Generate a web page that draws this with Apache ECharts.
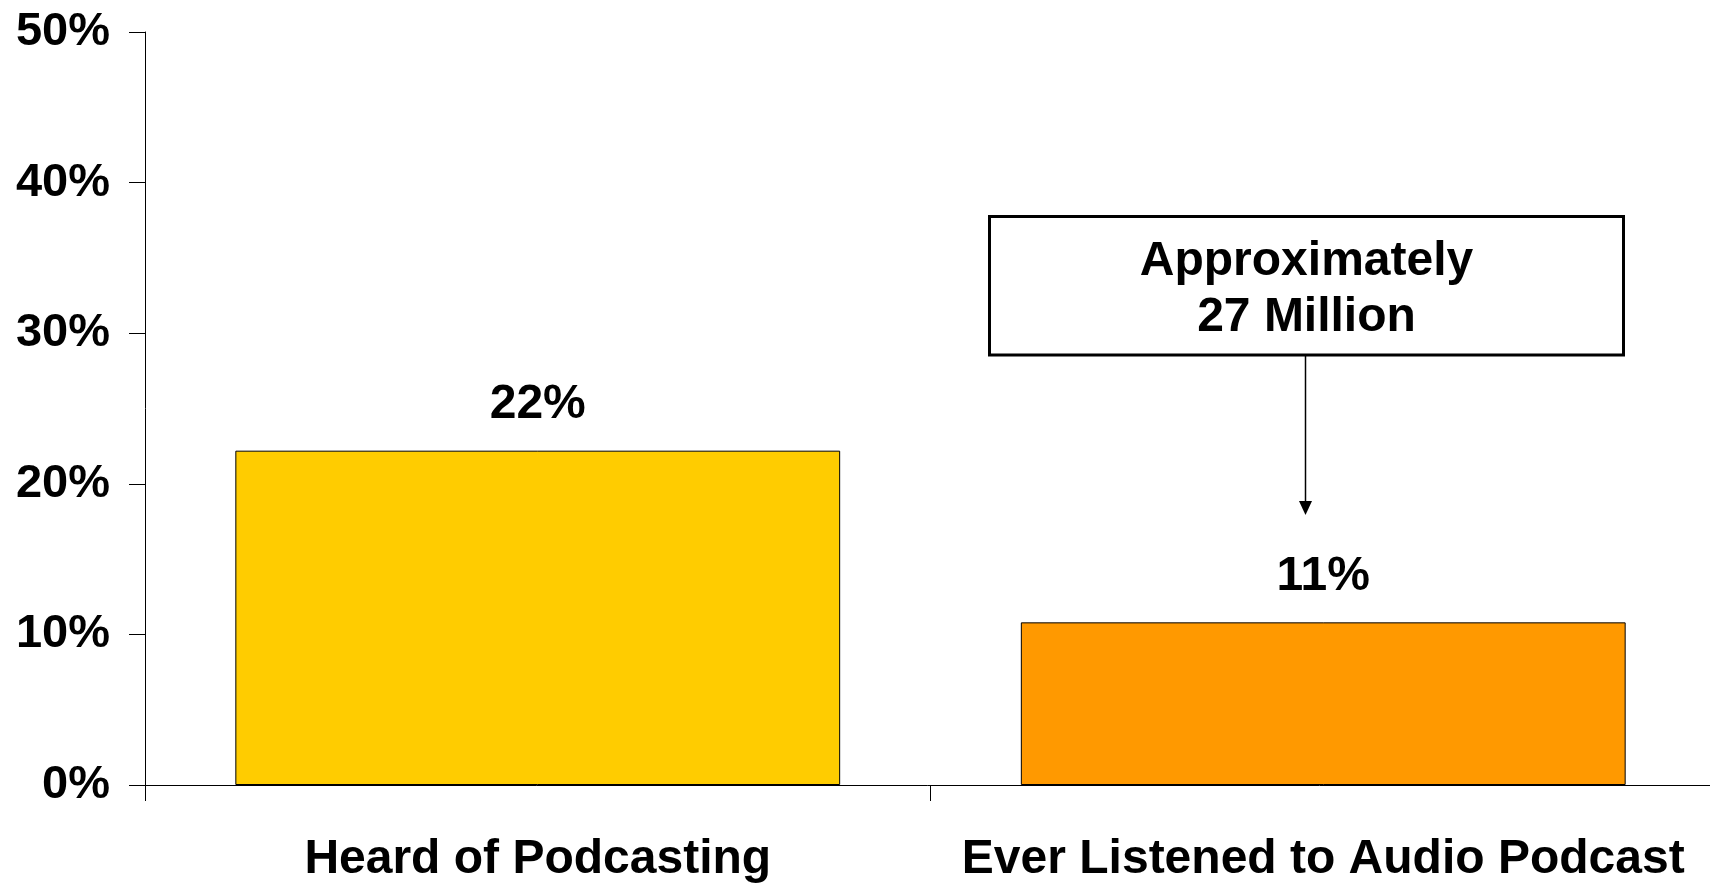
<!DOCTYPE html>
<html lang="en">
<head>
    <meta charset="UTF-8">
    <title>Podcasting awareness</title>
    <script src="https://cdn.jsdelivr.net/npm/echarts@6/dist/echarts.min.js"></script>
    <style>
        html, body {
            margin: 0;
            padding: 0;
            background-color: #ffffff;
        }
        #chart {
            width: 1710px;
            height: 883px;
        }
    </style>
</head>
<body>
<div id="chart"></div>
<script>
    // chart data
    var categories = ['Heard of Podcasting', 'Ever Listened to Audio Podcast'];
    var values = [22.2, 10.8];
    var valueLabels = ['22%', '11%'];
    var barColors = ['#FFCC00', '#FF9900'];
    var yTicks = [0, 10, 20, 30, 40, 50];
    var noteLines = ['Approximately', '27 Million'];

    var font = "'Liberation Sans', Arial, sans-serif";

    var chartDom = document.getElementById('chart');
    var myChart = echarts.init(chartDom);

    var barData = values.map(function (v, i) {
        return {
            value: v,
            itemStyle: { color: barColors[i] },
            label: { formatter: valueLabels[i] }
        };
    });

    var option = {
        animation: false,
        backgroundColor: '#ffffff',
        grid: {
            left: 145,
            right: -6,
            top: 32,
            bottom: 98,
            containLabel: false,
            outerBoundsMode: 'none'
        },
        xAxis: {
            type: 'category',
            data: categories,
            boundaryGap: true,
            axisLine: { lineStyle: { color: '#000', width: 1 } },
            axisTick: { show: true, length: 16, lineStyle: { color: '#000' } },
            axisLabel: {
                color: '#000',
                fontFamily: font,
                fontWeight: 'bold',
                fontSize: 48,
                margin: 51,
                interval: 0
            }
        },
        yAxis: {
            type: 'value',
            min: yTicks[0],
            max: yTicks[yTicks.length - 1],
            interval: 10,
            splitLine: { show: false },
            axisLine: { show: true, lineStyle: { color: '#000', width: 1 } },
            axisTick: { show: true, length: 16, lineStyle: { color: '#000' } },
            axisLabel: {
                color: '#000',
                fontFamily: font,
                fontWeight: 'bold',
                fontSize: 47,
                margin: 35,
                padding: [4, 0, 0, 0],
                formatter: '{value}%'
            }
        },
        series: [{
            type: 'bar',
            data: barData,
            barWidth: '77%',
            itemStyle: { borderColor: '#000', borderWidth: 1 },
            label: {
                show: true,
                position: 'top',
                distance: 22,
                color: '#000',
                fontFamily: font,
                fontWeight: 'bold',
                fontSize: 48
            }
        }],
        // callout box with arrow
        graphic: [
            {
                type: 'rect',
                shape: { x: 989.5, y: 216.5, width: 634, height: 138.5 },
                style: { fill: '#fff', stroke: '#000', lineWidth: 3 }
            },
            {
                type: 'text',
                x: 1306.5,
                y: 262,
                style: {
                    text: noteLines[0],
                    fill: '#000',
                    font: 'bold 48px ' + font,
                    align: 'center',
                    verticalAlign: 'middle'
                }
            },
            {
                type: 'text',
                x: 1306.5,
                y: 318,
                style: {
                    text: noteLines[1],
                    fill: '#000',
                    font: 'bold 48px ' + font,
                    align: 'center',
                    verticalAlign: 'middle'
                }
            },
            {
                type: 'line',
                shape: { x1: 1305.5, y1: 356, x2: 1305.5, y2: 502 },
                style: { stroke: '#000', lineWidth: 1.5 }
            },
            {
                type: 'polygon',
                shape: { points: [[1299, 501], [1312, 501], [1305.5, 515]] },
                style: { fill: '#000' }
            }
        ]
    };

    myChart.setOption(option);
</script>
</body>
</html>
